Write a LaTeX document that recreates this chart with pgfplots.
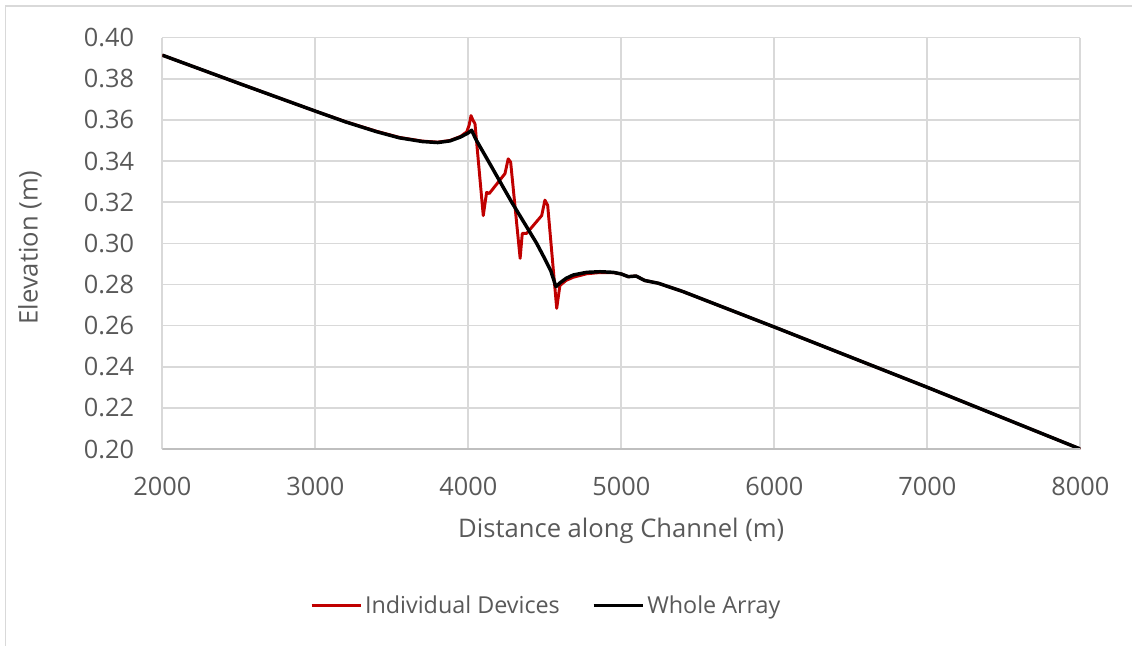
\documentclass[border=0pt]{standalone}
\usepackage{pgfplots}
\pgfplotsset{compat=1.18}
\usepackage{fontspec}
\setmainfont{Open Sans}
\definecolor{txtgray}{HTML}{595959}
\definecolor{gridgray}{HTML}{D9D9D9}
\definecolor{axgray}{HTML}{BFBFBF}
\definecolor{devred}{HTML}{C00000}
\begin{document}
\begin{tikzpicture}
\path[use as bounding box] (-121.7pt,-147.75pt) rectangle (727.3pt,336.75pt);
\begin{axis}[
 at={(0pt,0pt)}, anchor=south west,
 scale only axis, width=688.5pt, height=308.5pt,
 xmin=2000, xmax=8000, ymin=0.20, ymax=0.40,
 xtick={2000,3000,...,8000},
 ytick={0.20,0.22,...,0.41},
 grid=major,
 major grid style={gridgray, line width=1.2pt},
 axis line style={draw=none},
 tick style={draw=none},
 /pgf/number format/assume math mode=true,
 xticklabel style={/pgf/number format/set thousands separator={}, anchor=north, inner sep=0pt, yshift=-21pt},
 yticklabel style={/pgf/number format/.cd, fixed, fixed zerofill, precision=2, /tikz/.cd, anchor=east, inner sep=0pt, xshift=-21pt},
 scaled ticks=false,
 tick label style={font=\fontsize{19}{22}\selectfont, text=txtgray},
 xlabel={Distance along Channel (m)},
 ylabel={Elevation (m)},
 label style={font=\fontsize{19.2}{22}\selectfont, text=txtgray},
 xlabel style={at={(axis description cs:0.5,-0.1994)}, anchor=center},
 ylabel style={at={(axis description cs:-0.1441,0.49)}, anchor=center},
 legend columns=2,
 legend style={at={(axis description cs:0.4187,-0.381)}, anchor=center, draw=none,
   font=\fontsize{17.5}{20}\selectfont, text=txtgray,
   /tikz/every even column/.append style={column sep=22pt}},
 legend image code/.code={\draw[#1] (0pt,0pt) -- (37pt,0pt);},
]
\addplot[devred, line width=2.2pt, line join=round] coordinates {
(2000,0.3915) (2500,0.3778) (3000,0.3643) (3200,0.3591) (3400,0.3545)
(3550,0.3515) (3700,0.3497) (3800,0.3492) (3880,0.3500) (3950,0.3520)
(3990,0.3542) (4006,0.3575) (4018,0.3621) (4030,0.3600) (4044,0.3581)
(4098,0.3135) (4120,0.3248) (4137,0.3242) (4240,0.3339) (4261,0.3411)
(4277,0.3395) (4339,0.2927) (4353,0.3048) (4381,0.3048) (4480,0.3135)
(4501,0.3210) (4519,0.3185) (4578,0.2684) (4599,0.2795) (4640,0.2820)
(4686,0.2835) (4774,0.2852) (4861,0.2858) (4948,0.2858) (5000,0.2851)
(5046,0.2838) (5096,0.2841) (5155,0.2819) (5242,0.2806) (5405,0.2765)
(6004,0.2592) (7000,0.2300) (8000,0.2000)
};
\addlegendentry{Individual Devices}
\addplot[black, line width=2.6pt, line join=round] coordinates {
(2000,0.3915) (2500,0.3778) (3000,0.3643) (3200,0.3590) (3400,0.3543)
(3550,0.3513) (3700,0.3495) (3800,0.3490) (3880,0.3498) (3950,0.3517)
(4000,0.3537) (4022,0.3550) (4050,0.3505) (4131,0.3400) (4284,0.3200)
(4447,0.3000) (4500,0.2925) (4540,0.2865) (4573,0.2789) (4600,0.2808)
(4640,0.2830) (4686,0.2846) (4774,0.2859) (4861,0.2862) (4948,0.2859)
(5000,0.2851) (5046,0.2838) (5096,0.2841) (5155,0.2819) (5242,0.2806)
(5405,0.2765) (6004,0.2592) (7000,0.2300) (8000,0.2000)
};
\addlegendentry{Whole Array}
\draw[axgray, line width=1.2pt] (rel axis cs:0,0) -- (rel axis cs:1,0);
\end{axis}
\draw[gridgray, line width=1.2pt] (-117.6pt,-147.75pt) -- (-117.6pt,332.25pt) -- (727.3pt,332.25pt);
\end{tikzpicture}
\end{document}
